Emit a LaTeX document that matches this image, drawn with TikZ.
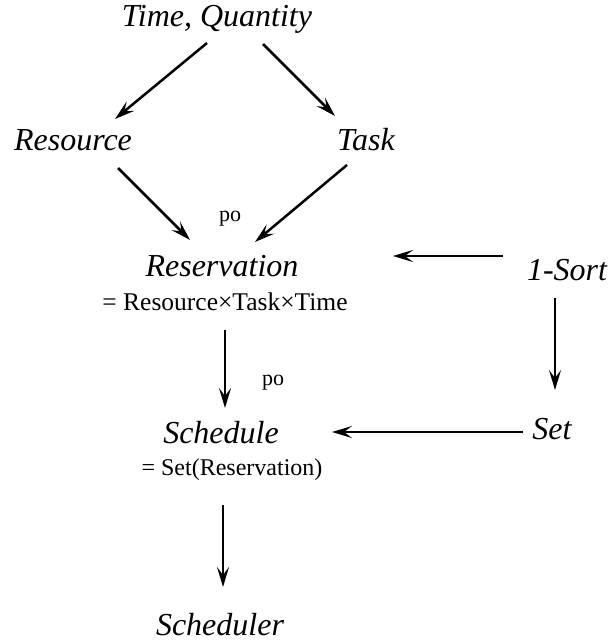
\documentclass[tikz,border=0pt]{standalone}
\usepackage{fontspec}
\setmainfont{Liberation Serif}
\usetikzlibrary{arrows.meta}

\tikzset{
  obj/.style={inner sep=0pt, anchor=base, font=\fontsize{16}{19}\selectfont\itshape},
  def/.style={inner sep=0pt, anchor=base, font=\fontsize{12.75}{15}\selectfont},
  po/.style={inner sep=0pt, anchor=base, font=\fontsize{11}{13}\selectfont},
  arr/.style={line width=1.25pt, -{Stealth[length=10pt,width=6pt,inset=4pt]}}
}

\begin{document}
\begin{tikzpicture}[x=0.5pt, y=-0.5pt]
      \useasboundingbox (0,0) rectangle (608,641);
      % Objects:
      \node[obj] (tq) at (217,27) {Time, Quantity};
      \node[obj] (res) at (73,151) {Resource};
      \node[obj] (task) at (366,151) {Task};
      \node[po] (po1) at (230,222) {po};
      \node[obj] (resv) at (222,277) {Reservation};
      \node[def] (resvdef) at (225,310) {= Resource×Task×Time};
      \node[obj] (sort) at (567,280) {1-Sort};
      \node[po] (po2) at (273,385) {po};
      \node[obj] (sched) at (221,443) {Schedule};
      \node[def, font=\fontsize{12}{14}\selectfont] (scheddef) at (232,475) {= Set(Reservation)};
      \node[obj] (set) at (552,439) {Set};
      \node[obj] (sch) at (220,635) {Scheduler};
      % Arrows:
      \draw[arr] ([shift={(-10,16)}]tq.base) -- ([shift={(42,-32)}]res.base);
      \draw[arr] ([shift={(46,17)}]tq.base) -- ([shift={(-31,-35)}]task.base);
      \draw[arr] ([shift={(45,17)}]res.base) -- ([shift={(-32,-37)}]resv.base);
      \draw[arr] ([shift={(-19,14)}]task.base) -- ([shift={(33,-35)}]resv.base);
      \draw[arr] ([shift={(-64,-24)}]sort.base) -- ([shift={(-174,-24)}]sort.base);
      \draw[arr] ([shift={(0,20)}]resvdef.base) -- ([shift={(4,-35)}]sched.base);
      \draw[arr] ([shift={(-12,18)}]sort.base) -- ([shift={(3,-49)}]set.base);
      \draw[arr] ([shift={(-29,-7)}]set.base) -- ([shift={(111,-11)}]sched.base);
      \draw[arr] ([shift={(-9,30)}]scheddef.base) -- ([shift={(3,-48)}]sch.base);
\end{tikzpicture}
\end{document}
